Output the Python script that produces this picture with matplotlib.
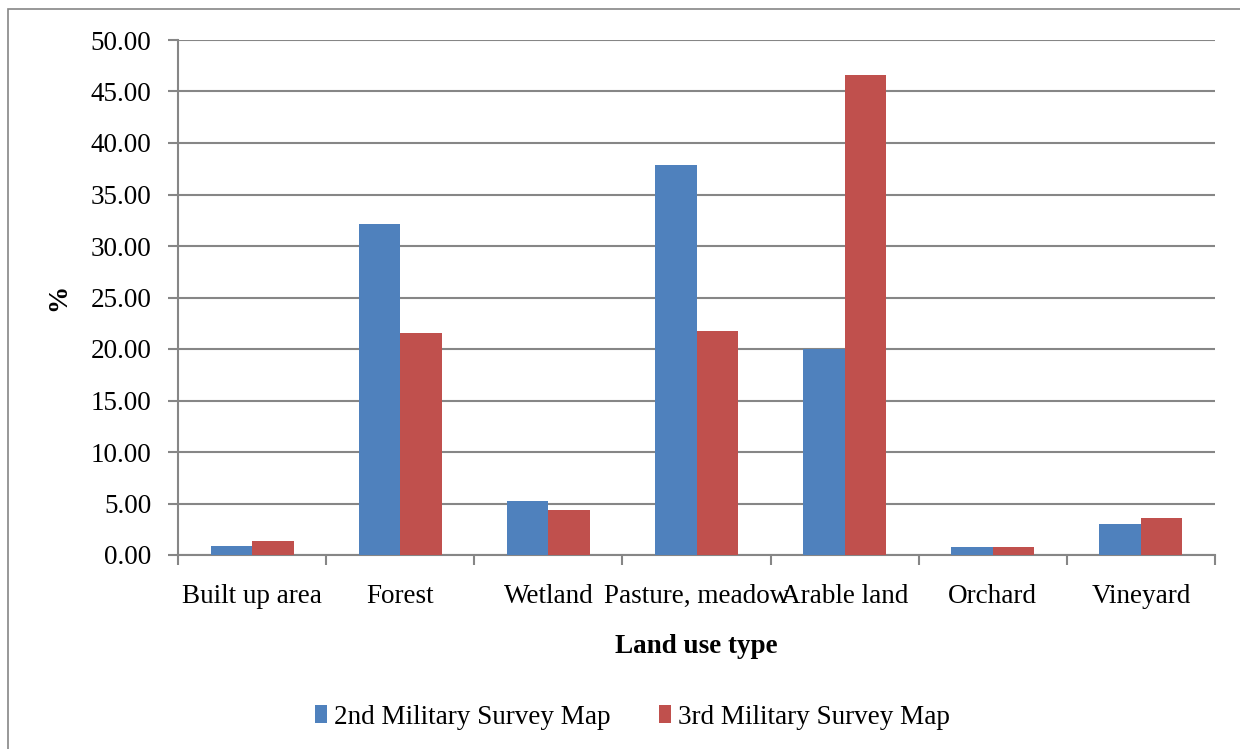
import numpy as np
import matplotlib.pyplot as plt
from matplotlib.patches import Rectangle

categories = ['Built up area', 'Forest', 'Wetland', 'Pasture, meadow', 'Arable land', 'Orchard', 'Vineyard']
survey_2nd = [0.90, 32.10, 5.27, 37.90, 20.00, 0.78, 3.00]
survey_3rd = [1.33, 21.60, 4.34, 21.70, 46.60, 0.78, 3.60]
series_names = ['2nd Military Survey Map', '3rd Military Survey Map']
yticks = np.arange(0, 50.01, 5)

plt.rcParams['font.family'] = ['Liberation Serif', 'DejaVu Serif']
grey = '#868686'

fig = plt.figure(figsize=(12.4, 7.49), dpi=100)
W, H = 1240, 749
ax = fig.add_axes([178 / W, 1 - 555 / H, (1215 - 178) / W, (555 - 40) / H])

# outer chart border (right and bottom run past the image)
fig.patches.append(Rectangle((8 / W, -0.05), 1.1, 1 - 9 / H + 0.05, transform=fig.transFigure,
                             fill=False, edgecolor=grey, linewidth=1.2))

x = np.arange(len(categories))
bw = 0.28
ax.bar(x - bw / 2, survey_2nd, bw, color='#4F81BD', label=series_names[0], zorder=3)
ax.bar(x + bw / 2, survey_3rd, bw, color='#C0504D', label=series_names[1], zorder=3)

ax.set_xlim(-0.5, len(categories) - 0.5)
ax.set_ylim(0, 50)
ax.set_yticks(yticks)
ax.set_yticklabels([f'{v:.2f}' for v in yticks], fontsize=19.5)
ax.set_xticks(x)
ax.set_xticklabels(categories, fontsize=19.5)
ax.tick_params(axis='x', length=0, pad=21)
ax.set_xticks(np.arange(-0.5, len(categories)), minor=True)
ax.tick_params(axis='x', which='minor', length=7, color=grey, width=1.5, direction='out')
ax.tick_params(axis='y', length=7, color=grey, width=1.5, direction='out', pad=12)

ax.grid(axis='y', color=grey, linewidth=1.5, zorder=0)
ax.set_axisbelow(True)
for side in ['top', 'right']:
    ax.spines[side].set_visible(False)
for side in ['left', 'bottom']:
    ax.spines[side].set_color(grey)
    ax.spines[side].set_linewidth(1.5)

ax.set_xlabel('Land use type', fontsize=19.5, fontweight='bold', labelpad=18)
ax.set_ylabel('%', fontsize=19.5, fontweight='bold', labelpad=14)

fig.legend(loc='center', bbox_to_anchor=(0.510, 1 - 717 / H), ncol=2, frameon=False,
           fontsize=19.5, handlelength=0.45, handleheight=0.6, handletextpad=0.25, columnspacing=1.8)

fig.savefig('out.png', dpi=100)
